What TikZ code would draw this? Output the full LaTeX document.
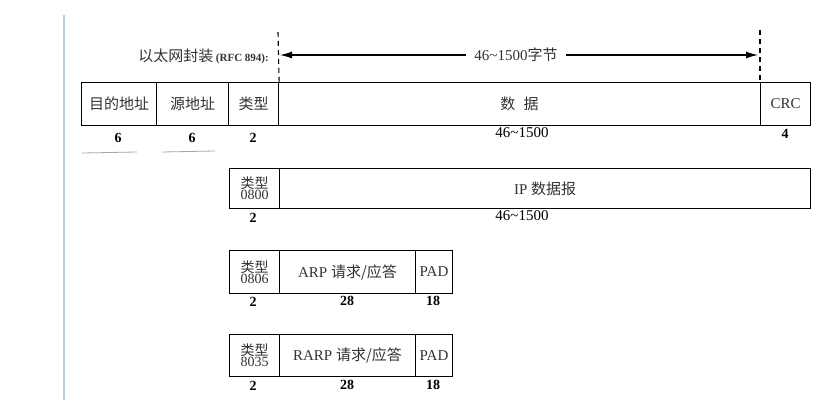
\documentclass[tikz,border=0pt]{standalone}
\usepackage{fontspec}
\setmainfont{Liberation Serif}
\newfontfamily\cjk{Noto Sans CJK SC}
\usetikzlibrary{arrows.meta}
\begin{document}
\begin{tikzpicture}[x=1pt,y=-1pt,
  fld/.style={draw, line width=1.1pt, inner sep=0pt, anchor=north west, font=\fontsize{15}{17}\selectfont, text=black!80},
  tfld/.style={fld, font=\fontsize{14}{14}\selectfont\cjk, align=center},
  lbl/.style={font=\fontsize{14}{15}\selectfont\bfseries, inner sep=0pt},
  nlbl/.style={font=\fontsize{15}{16}\selectfont, inner sep=0pt},
  arr/.style={line width=1.1pt, -{Latex[length=12pt,width=7pt]}},
  dsh/.style={line width=1.1pt, dash pattern=on 5pt off 4pt}]
\useasboundingbox (0,0) rectangle (831,412);
\fill[white] (0,0) rectangle (831,412);
% left margin line
\coordinate (b1) at (64,15);
\coordinate (b2) at (64,400);
\draw[line width=1.6pt, color={rgb,255:red,190;green,205;blue,235}] (b1) -- (b2);
% top row
\node[fld, minimum width=75pt, minimum height=43pt] (dst) at (81,82) {\cjk 目的地址};
\node[fld, minimum width=72pt, minimum height=43pt] (src) at (156,82) {\cjk 源地址};
\node[fld, minimum width=50pt, minimum height=43pt] (typ) at (228,82) {\cjk 类型};
\node[fld, minimum width=482pt, minimum height=43pt] (data) at (278,82) {\cjk 数\hspace{0.55em}据};
\node[fld, minimum width=50pt, minimum height=43pt] (crc) at (760,82) {CRC};
\node[lbl] (l1) at (118,138) {6};
\node[lbl] (l2) at (192,138) {6};
\node[lbl] (l3) at (253,138) {2};
\node[nlbl] (l4) at (522,133) {46\textasciitilde1500};
\node[lbl] (l5) at (785,134) {4};
% underline artifacts
\coordinate (u1) at (82,153); \coordinate (u2) at (137,152);
\coordinate (u3) at (162,152); \coordinate (u4) at (215,151);
\draw[gray!70, line width=0.8pt] (u1) -- (u2) (u3) -- (u4);
% header
\node[anchor=east, inner sep=0pt, text=black!80] (title) at (269,56) {{\fontsize{15}{17}\selectfont\cjk 以太网封装} {\fontsize{11}{12}\selectfont\bfseries (RFC 894):}};
\coordinate (dl) at (278,32);
\coordinate (dr) at (760,30);
\draw[dsh] (dl) -- (typ.north east);
\draw[dsh] (dr) -- (crc.north west);
\node[nlbl, text=black!80] (bytes) at (516,55) {46\textasciitilde1500{\cjk 字节}};
\draw[arr] ([xshift=-8pt]bytes.west) -- ([xshift=2pt]dl |- bytes.west);
\draw[arr] ([xshift=8pt]bytes.east) -- ([xshift=-2pt]dr |- bytes.east);
% IP row
\node[tfld, minimum width=50pt, minimum height=40pt] (t2) at (229,168) {类型\\[-3pt]{\rmfamily 0800}};
\node[fld, minimum width=531pt, minimum height=40pt] (ip) at (279,168) {IP {\cjk 数据报}};
\node[lbl] (m1) at (253,218) {2};
\node[nlbl] (m2) at (522,216) {46\textasciitilde1500};
% ARP row
\node[tfld, minimum width=50pt, minimum height=43pt] (t3) at (229,250) {类型\\[-3pt]{\rmfamily 0806}};
\node[fld, minimum width=136pt, minimum height=43pt] (arp) at (279,250) {ARP {\cjk 请求/应答}};
\node[fld, minimum width=37pt, minimum height=43pt] (pad1) at (415,250) {PAD};
\node[lbl] (n1) at (253,302) {2};
\node[lbl] (n2) at (347,301) {28};
\node[lbl] (n3) at (433,301) {18};
% RARP row
\node[tfld, minimum width=50pt, minimum height=42pt] (t4) at (229,334) {类型\\[-3pt]{\rmfamily 8035}};
\node[fld, minimum width=136pt, minimum height=42pt] (rarp) at (279,334) {RARP {\cjk 请求/应答}};
\node[fld, minimum width=37pt, minimum height=42pt] (pad2) at (415,334) {PAD};
\node[lbl] (k1) at (253,386) {2};
\node[lbl] (k2) at (347,385) {28};
\node[lbl] (k3) at (433,385) {18};
\end{tikzpicture}
\end{document}
